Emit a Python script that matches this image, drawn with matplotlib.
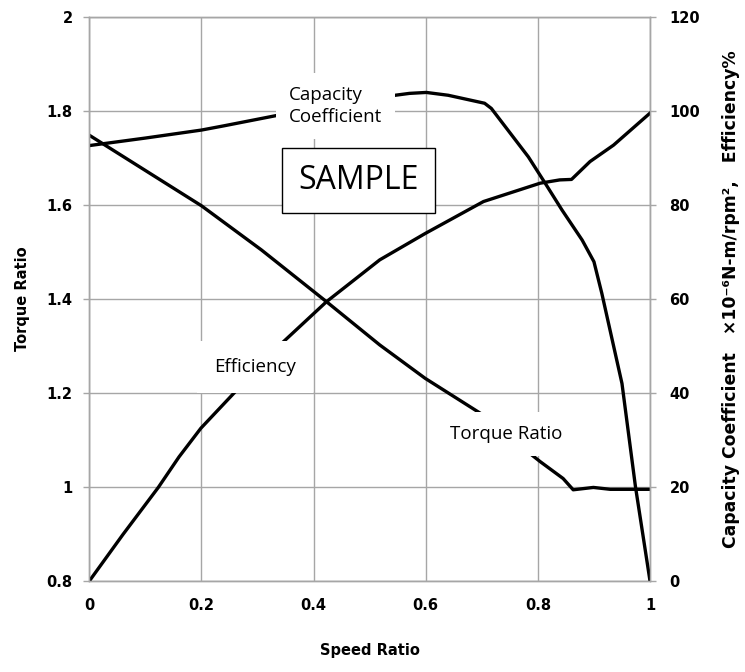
import matplotlib
matplotlib.use("Agg")
import matplotlib.pyplot as plt

# speed ratio vs torque ratio (left axis)
tr_speed = [0, 0.1, 0.2, 0.307, 0.423, 0.518, 0.599, 0.697, 0.75, 0.804, 0.845, 0.863, 0.899, 0.929, 1.0]
torque_ratio = [1.748, 1.673, 1.598, 1.504, 1.394, 1.302, 1.231, 1.157, 1.105, 1.054, 1.018, 0.994, 0.999, 0.995, 0.995]

# capacity coefficient (x10^-6 N-m/rpm^2, right axis)
cap_speed = [0, 0.1, 0.2, 0.24, 0.33, 0.45, 0.571, 0.601, 0.64, 0.705, 0.717, 0.783, 0.813, 0.843,
             0.879, 0.9, 0.914, 0.95, 0.974, 1.0]
capacity = [92.6, 94.2, 95.9, 96.8, 98.9, 101.8, 103.7, 103.9, 103.3, 101.6, 100.5, 90.2, 84.6, 78.9,
            72.5, 67.9, 61.2, 42.0, 20.1, 0]

# efficiency % (right axis)
eff_speed = [0, 0.06, 0.123, 0.16, 0.199, 0.263, 0.34, 0.423, 0.518, 0.599, 0.703, 0.804, 0.839, 0.86, 0.893, 0.935, 1.0]
efficiency = [0, 9.9, 19.9, 26.4, 32.5, 40.6, 50.2, 59.4, 68.3, 73.9, 80.7, 84.6, 85.3, 85.4, 89.2, 92.7, 99.5]

left_ticks = [0.8, 1.0, 1.2, 1.4, 1.6, 1.8, 2.0]
left_labels = ['0.8', '1', '1.2', '1.4', '1.6', '1.8', '2']
right_ticks = [0, 20, 40, 60, 80, 100, 120]
x_ticks = [0, 0.2, 0.4, 0.6, 0.8, 1.0]
x_labels = ['0', '0.2', '0.4', '0.6', '0.8', '1']

grid_c = '#a6a6a6'
lab_font = 'Open Sans'

fig = plt.figure(figsize=(7.45, 6.72), dpi=100)
ax = fig.add_axes([0.1199, 0.1354, 0.7526, 0.8397])
ax2 = ax.twinx()

ax.set_xlim(0, 1)
ax.set_ylim(0.8, 2.0)
ax2.set_ylim(0, 120)

ax.set_xticks(x_ticks)
ax.set_xticklabels(x_labels)
ax.set_yticks(left_ticks)
ax.set_yticklabels(left_labels)
ax2.set_yticks(right_ticks)

ax.grid(True, color=grid_c, lw=1.0)
ax.set_axisbelow(True)
for a in (ax, ax2):
    for sp in a.spines.values():
        sp.set_color(grid_c)
        sp.set_linewidth(1.0)
    a.tick_params(length=4, color=grid_c, width=1.0, pad=8, labelsize=10.5)
    for lbl in a.get_xticklabels() + a.get_yticklabels():
        lbl.set_fontweight('bold')
ax.tick_params(axis='x', length=0, pad=12)
ax2.tick_params(axis='y', pad=10)

ax.plot(tr_speed, torque_ratio, color='black', lw=2.4, solid_joinstyle='round')
ax2.plot(cap_speed, capacity, color='black', lw=2.4, solid_joinstyle='round')
ax2.plot(eff_speed, efficiency, color='black', lw=2.4, solid_joinstyle='round')

ax.set_xlabel('Speed Ratio', fontweight='bold', fontsize=10.5, labelpad=22)
ax.set_ylabel('Torque Ratio', fontweight='bold', fontsize=10.5, labelpad=12)
ax2.set_ylabel('Capacity Coefficient   \u00d710\u207b\u2076N-m/rpm\u00b2,   Efficiency%',
               fontweight='bold', fontsize=12.4, labelpad=16)

# curve labels with white boxes that hide the lines behind
ax2.text(0.356, 101.0, 'Capacity\nCoefficient', fontsize=13.5, family=lab_font, ha='left', va='center',
         linespacing=1.25, zorder=5,
         bbox=dict(boxstyle='square,pad=0.7', fc='white', ec='none'))
ax2.text(0.296, 45.5, 'Efficiency', fontsize=13.5, family=lab_font, ha='center', va='center', zorder=5,
         bbox=dict(boxstyle='square,pad=0.9', fc='white', ec='none'))
ax2.text(0.743, 31.3, 'Torque Ratio', fontsize=13.5, family=lab_font, ha='center', va='center', zorder=5,
         bbox=dict(boxstyle='square,pad=0.7', fc='white', ec='none'))
ax2.text(0.48, 85.1, 'SAMPLE', fontsize=23, family=lab_font, ha='center', va='center', zorder=6,
         bbox=dict(boxstyle='square,pad=0.5', fc='white', ec='black', lw=1.0))

fig.savefig('out.png', dpi=100)
